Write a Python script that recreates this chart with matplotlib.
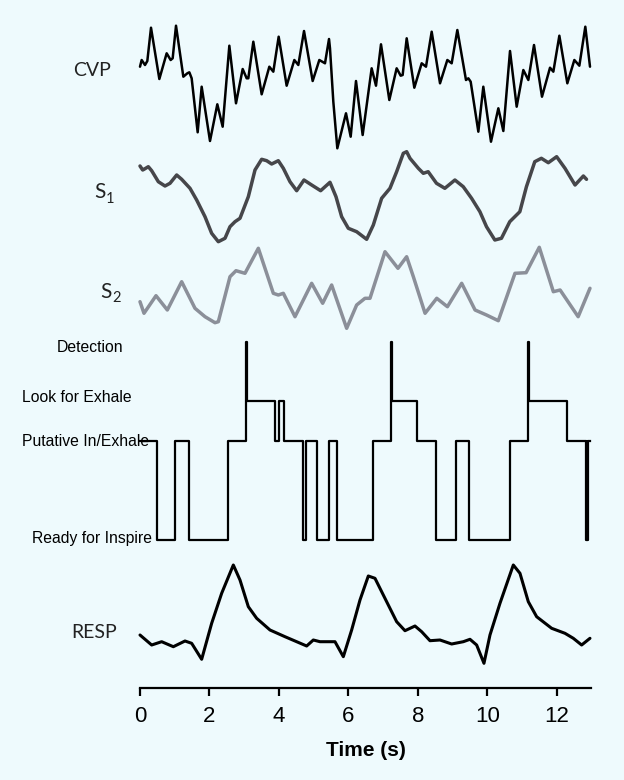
import matplotlib
matplotlib.use("Agg")
import matplotlib.pyplot as plt

W, H = 624, 780
BG = "#eefafd"

# CVP trace (time in s, amplitude in arbitrary units)
cvp_t = [0.0, 0.048, 0.144, 0.211, 0.317, 0.557, 0.768, 0.883, 0.941, 1.037, 1.248,
         1.363, 1.421, 1.488, 1.661, 1.776, 2.016, 2.227, 2.381, 2.573, 2.765, 2.957,
         3.072, 3.12, 3.264, 3.504, 3.725, 3.84, 3.994, 4.224, 4.445, 4.56, 4.724,
         4.973, 5.165, 5.328, 5.444, 5.472, 5.568, 5.683, 5.933, 6.068, 6.221, 6.413,
         6.672, 6.797, 6.941, 7.181, 7.392, 7.508, 7.565, 7.681, 7.901, 8.113, 8.237,
         8.401, 8.641, 8.852, 8.977, 9.14, 9.389, 9.457, 9.524, 9.745, 9.888, 10.109,
         10.321, 10.465, 10.657, 10.849, 11.041, 11.185, 11.348, 11.578, 11.809,
         11.905, 12.078, 12.308, 12.51, 12.654, 12.826, 12.961]
cvp_v = [83.3, 90.0, 85.0, 89.0, 122.3, 71.0, 96.7, 90.0, 91.7, 124.3, 73.3,
         76.7, 77.7, 71.7, 17.7, 63.3, 9.0, 45.7, 23.3, 104.3, 46.7, 81.0,
         71.7, 71.7, 108.3, 55.7, 83.3, 78.3, 113.3, 64.3, 90.0, 85.0, 119.0,
         69.0, 90.0, 86.7, 111.0, 101.7, 48.3, 1.7, 36.7, 13.3, 69.0, 15.0,
         81.7, 64.3, 105.7, 50.0, 81.7, 74.3, 75.0, 111.7, 62.3, 86.7, 83.3,
         118.3, 66.7, 90.0, 86.7, 120.0, 70.0, 71.7, 68.3, 18.3, 63.3, 8.3,
         41.7, 19.0, 99.0, 43.3, 80.0, 70.0, 105.0, 53.3, 82.3,
         78.3, 114.3, 66.7, 90.0, 84.3, 123.3, 83.3]

# S1 component
s1_t = [0.0, 0.077, 0.115, 0.24, 0.336, 0.528, 0.72, 0.864, 1.056, 1.2, 1.44, 1.632,
        1.872, 2.064, 2.256, 2.448, 2.592, 2.736, 2.88, 3.12, 3.312, 3.504, 3.648,
        3.792, 3.984, 4.128, 4.32, 4.512, 4.723, 4.944, 5.203, 5.472, 5.645, 5.808,
        6.0, 6.24, 6.528, 6.72, 6.96, 7.2, 7.392, 7.584, 7.68, 7.776, 8.017, 8.16,
        8.30, 8.54, 8.78, 9.07, 9.31, 9.55, 9.79, 9.98, 10.22, 10.41, 10.65, 10.94,
        11.13, 11.37, 11.56, 11.76, 12.0, 12.24, 12.53, 12.77, 12.86]
s1_v = [79.0, 75.0, 75.7, 78.3, 74.3, 63.3, 59.0, 61.7, 70.0, 65.7, 56.7, 45.0,
        28.3, 11.7, 3.3, 6.7, 18.3, 23.3, 26.7, 48.3, 75.0, 85.7, 84.3,
        81.0, 84.3, 76.7, 63.3, 54.3, 65.0, 60.0, 54.3, 62.7, 48.3, 28.3,
        16.7, 13.3, 5.7, 20.0, 46.7, 56.7, 73.3, 91.7, 93.3, 86.7, 76.7, 71.7,
        73.3, 61.7, 56.7, 65.0, 58.3, 46.7, 33.3, 18.3, 5.0, 6.7, 23.3, 33.3,
        58.3, 83.3, 86.7, 82.3, 88.3, 76.7, 60.0, 69.0, 65.7]

# S2 component
s2_t = [0.0, 0.115, 0.461, 0.787, 1.2, 1.584, 1.872, 2.16, 2.256, 2.592, 2.765,
        3.024, 3.408, 3.84, 3.984, 4.128, 4.464, 4.944, 5.261, 5.52, 5.952, 6.24,
        6.48, 6.624, 7.056, 7.43, 7.68, 7.873, 8.21, 8.547, 8.854, 9.265, 9.65,
        9.98, 10.32, 10.80, 11.12, 11.50, 11.905, 12.1, 12.62, 12.96]
s2_v = [28.3, 16.7, 34.3, 20.0, 48.3, 21.7, 13.3, 7.3, 8.3, 53.3, 59.3,
        56.7, 81.7, 36.7, 35.0, 36.7, 13.3, 46.7, 26.7, 45.0, 1.7, 25.0,
        31.7, 31.7, 78.3, 61.7, 73.3, 53.3, 16.7, 31.7, 23.3, 46.7, 20.0,
        15.0, 9.3, 56.7, 57.3, 82.7, 38.3, 40.0, 13.3, 41.7]

# detector state machine
READY, PUTATIVE, LOOK, DETECT = 0.0, 1.0, 1.4, 2.0
state_names = ["Ready for Inspire", "Putative In/Exhale", "Look for Exhale", "Detection"]
state_t = [0.0, 0.48, 1.01, 1.41, 2.54, 3.04, 3.08, 3.89, 4.01, 4.16, 4.70, 4.78,
           5.11, 5.44, 5.68, 6.72, 7.23, 7.27, 7.99, 8.53, 9.10, 9.49, 10.66,
           11.17, 11.21, 12.31, 12.86, 12.87, 12.88, 12.89, 12.95]
state_v = [PUTATIVE, READY, PUTATIVE, READY, PUTATIVE, DETECT, LOOK, PUTATIVE, LOOK,
           PUTATIVE, READY, PUTATIVE, READY, PUTATIVE, READY, PUTATIVE, DETECT, LOOK,
           PUTATIVE, READY, PUTATIVE, READY, PUTATIVE, DETECT, LOOK, PUTATIVE,
           READY, PUTATIVE, READY, PUTATIVE, PUTATIVE]

# respiration
resp_t = [0.0, 0.336, 0.624, 0.96, 1.296, 1.488, 1.776, 2.064, 2.352, 2.688, 2.88,
          3.12, 3.36, 3.744, 4.176, 4.512, 4.8, 4.992, 5.184, 5.616, 5.856, 6.096,
          6.336, 6.576, 6.768, 7.104, 7.392, 7.632, 7.92, 8.112, 8.352, 8.64, 8.976,
          9.312, 9.504, 9.696, 9.907, 10.08, 10.368, 10.752, 10.944, 11.184, 11.424,
          11.856, 12.24, 12.48, 12.72, 12.96]
resp_v = [35.0, 25.0, 28.3, 23.3, 29.0, 26.7, 10.7, 46.7, 76.7, 105.0, 90.0,
          63.3, 51.7, 40.0, 33.3, 28.3, 24.0, 30.0, 28.3, 28.3, 13.3, 40.0,
          70.0, 94.0, 91.7, 68.3, 48.3, 39.3, 44.0, 38.3, 29.3, 30.0, 26.0,
          28.3, 30.7, 25.0, 6.7, 35.0, 66.7, 105.0, 96.7, 68.3, 53.3,
          41.7, 36.7, 31.7, 25.0, 31.7]

time_ticks = [0, 2, 4, 6, 8, 10, 12]

fig = plt.figure(figsize=(W / 100, H / 100), dpi=100, facecolor=BG)


def panel(top, bottom):
    # axes rectangle from pixel rows, x spans 0..13 s
    x0, x1 = 140, 140 + 13 * 34.72
    return fig.add_axes([x0 / W, 1 - bottom / H, (x1 - x0) / W, (bottom - top) / H])


def bare(ax):
    ax.set_xlim(0, 13)
    ax.set_facecolor("none")
    ax.set_xticks([])
    ax.set_yticks([])
    for s in ax.spines.values():
        s.set_visible(False)


smooth = dict(solid_joinstyle="round", solid_capstyle="round", clip_on=False)

ax_cvp = panel(0, 150)
ax_cvp.plot(cvp_t, cvp_v, color="black", lw=1.8, **smooth)
bare(ax_cvp)
ax_cvp.set_ylim(0, 150)

ax_s1 = panel(145, 245)
ax_s1.plot(s1_t, s1_v, color="#46464a", lw=2.5, **smooth)
bare(ax_s1)
ax_s1.set_ylim(0, 100)

ax_s2 = panel(240, 330)
ax_s2.plot(s2_t, s2_v, color="#8b8f99", lw=2.5, **smooth)
bare(ax_s2)
ax_s2.set_ylim(0, 90)

ax_st = panel(330, 550)
ax_st.plot(state_t, state_v, color="black", lw=1.6, drawstyle="steps-post", clip_on=False)
bare(ax_st)
ax_st.set_ylim(-10 / 99, 210 / 99)

ax_r = panel(555, 688)
ax_r.plot(resp_t, resp_v, color="black", lw=2.2, **smooth)
bare(ax_r)
ax_r.set_ylim(-18, 115)
ax_r.spines["bottom"].set_visible(True)
ax_r.spines["bottom"].set_linewidth(1.6)
ax_r.set_xticks(time_ticks)
ax_r.tick_params(axis="x", direction="out", length=6, width=1.6, pad=7,
                 labelsize=16)
for lab in ax_r.get_xticklabels():
    lab.set_family("Liberation Sans")
ax_r.set_xlabel("Time (s)", fontsize=15, fontweight="bold", family="Liberation Sans",
                labelpad=10)


def ftext(x, y, s, **kw):
    fig.text(x / W, 1 - y / H, s, **kw)


trace_font = dict(family="Lato", color="#222222", va="center")
ftext(92, 70, "CVP", fontsize=14, ha="center", **trace_font)
ftext(94, 632, "RESP", fontsize=14, ha="center", **trace_font)
# S1 / S2 with hand-set subscripts
ftext(94, 192, "S", fontsize=15, ha="left", **trace_font)
ftext(106, 199, "1", fontsize=10.5, ha="left", **trace_font)
ftext(100, 292, "S", fontsize=15, ha="left", **trace_font)
ftext(112, 298, "2", fontsize=10.5, ha="left", **trace_font)

state_font = dict(family="Liberation Sans", fontsize=11.3, color="black", va="center", ha="left")
ftext(57, 347, state_names[3], **state_font)
ftext(22, 398, state_names[2], **state_font)
ftext(22, 441, state_names[1], **state_font)
ftext(32, 538, state_names[0], **state_font)

fig.savefig("out.png", dpi=100, facecolor=BG)
